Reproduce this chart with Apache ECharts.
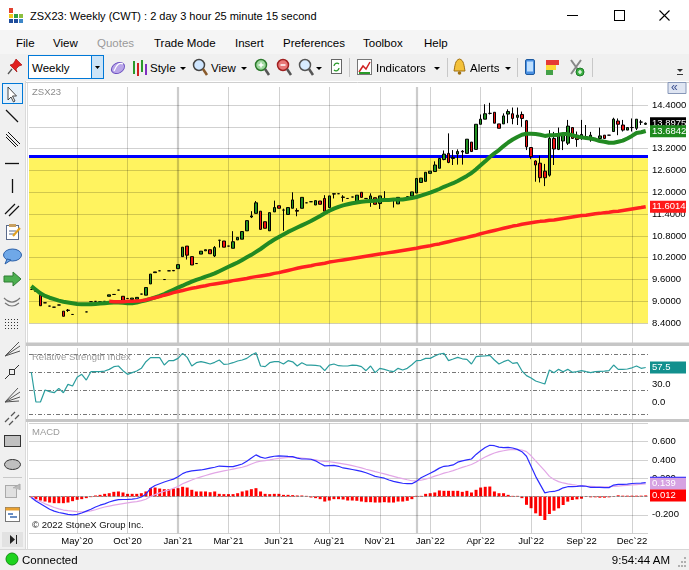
<!DOCTYPE html>
<html>
<head>
<meta charset="utf-8">
<title>ZSX23 Weekly</title>
<script src="https://cdn.jsdelivr.net/npm/echarts@6.0.0/dist/echarts.min.js"></script>
<style>
html,body{margin:0;padding:0;width:689px;height:570px;overflow:hidden;background:#fff;}
#chart{position:absolute;left:0;top:0;width:689px;height:570px;}
#chrome{position:absolute;left:0;top:0;width:689px;height:570px;pointer-events:none;}
#chrome text{font-family:"Liberation Sans",Arial,sans-serif;}
</style>
</head>
<body>
<div id="chart"></div>
<svg id="chrome" width="689" height="570" viewBox="0 0 689 570" xmlns="http://www.w3.org/2000/svg">
  <!-- title bar -->
  <rect x="0" y="0" width="689" height="30" fill="#ffffff"/>
  <rect x="9" y="8" width="4" height="5" fill="#e2412f"/>
  <rect x="9" y="14" width="4" height="4" fill="#f2c81b"/>
  <rect x="14" y="14" width="4" height="4" fill="#2f9e44"/>
  <rect x="19" y="14" width="4" height="4" fill="#8cbf3f"/>
  <rect x="9" y="19" width="4" height="4" fill="#1f4e9c"/>
  <rect x="14" y="19" width="4" height="4" fill="#1f4e9c"/>
  <rect x="19" y="19" width="4" height="4" fill="#3c86c8"/>
  <text x="30" y="20" font-size="11" fill="#000">ZSX23: Weekly (CWT) : 2 day 3 hour 25 minute 15 second</text>
  <line x1="567" y1="15.5" x2="578" y2="15.5" stroke="#000"/>
  <rect x="614.5" y="10.5" width="10" height="10" fill="none" stroke="#000"/>
  <path d="M659.5 10.5 L669.5 20.5 M669.5 10.5 L659.5 20.5" stroke="#000" stroke-width="1.1"/>
  <!-- menu -->
  <rect x="0" y="30" width="689" height="24" fill="#f5f5f5"/>
  <g font-size="11.5" fill="#000">
    <text x="16" y="47">File</text>
    <text x="53" y="47">View</text>
    <text x="97" y="47" fill="#9a9a9a">Quotes</text>
    <text x="154" y="47">Trade Mode</text>
    <text x="235" y="47">Insert</text>
    <text x="283" y="47">Preferences</text>
    <text x="363" y="47">Toolbox</text>
    <text x="424" y="47">Help</text>
  </g>
  <!-- toolbar -->
  <rect x="0" y="54" width="689" height="27" fill="#f0f0f0"/>
  <g transform="translate(8,58)">
    <path d="M8 1 L14 7 L11 8 L8 11 L9 14 L2 7 L5 6 L7 3 Z" fill="#e02020" stroke="#a00000" stroke-width="0.6"/>
    <line x1="4" y1="11" x2="0" y2="16" stroke="#555" stroke-width="1.3"/>
  </g>
  <rect x="28.5" y="55.5" width="75" height="23" fill="#fff" stroke="#0078d7"/>
  <rect x="92" y="56" width="11" height="22" fill="#cce4f7"/>
  <line x1="91.5" y1="56" x2="91.5" y2="78" stroke="#0078d7"/>
  <path d="M95 66 L100 66 L97.5 69 Z" fill="#000"/>
  <text x="32" y="72" font-size="11.5">Weekly</text>
  <g transform="translate(110,59)">
    <ellipse cx="8" cy="9" rx="7" ry="5" fill="#b9a6e8" stroke="#6b4fc0" transform="rotate(-30 8 9)"/>
    <path d="M4 12 Q8 2 13 5" stroke="#fff" fill="none" stroke-width="1.2"/>
  </g>
  <line x1="134" y1="61" x2="134" y2="74" stroke="#2a9a2a" stroke-width="2"/>
  <line x1="138" y1="63" x2="138" y2="76" stroke="#d02020" stroke-width="2"/>
  <line x1="142" y1="60" x2="142" y2="72" stroke="#2a9a2a" stroke-width="2"/>
  <line x1="146" y1="64" x2="146" y2="75" stroke="#8030c0" stroke-width="2"/>
  <text x="150" y="72" font-size="11.5">Style</text>
  <path d="M180 67 L186 67 L183 70 Z" fill="#000"/>
  <g transform="translate(192,58)">
    <circle cx="7" cy="7" r="5.5" fill="#cfe6ff" stroke="#444" stroke-width="1.5"/>
    <line x1="11" y1="11" x2="15" y2="17" stroke="#8a5a2a" stroke-width="2.5"/>
  </g>
  <text x="211" y="72" font-size="11.5">View</text>
  <path d="M241 67 L247 67 L244 70 Z" fill="#000"/>
  <g transform="translate(254,58)">
    <circle cx="7" cy="7" r="5.5" fill="#9ed89e" stroke="#2d7a2d" stroke-width="1.5"/>
    <path d="M4.5 7 H9.5 M7 4.5 V9.5" stroke="#fff" stroke-width="1.5"/>
    <line x1="11" y1="11" x2="15" y2="17" stroke="#555" stroke-width="2.5"/>
  </g>
  <g transform="translate(276,58)">
    <circle cx="7" cy="7" r="5.5" fill="#e87878" stroke="#a02020" stroke-width="1.5"/>
    <path d="M4.5 7 H9.5" stroke="#fff" stroke-width="1.5"/>
    <line x1="11" y1="11" x2="15" y2="17" stroke="#555" stroke-width="2.5"/>
  </g>
  <g transform="translate(298,58)">
    <circle cx="7" cy="7" r="5.5" fill="#d8ecff" stroke="#555" stroke-width="1.5"/>
    <line x1="11" y1="11" x2="15" y2="17" stroke="#555" stroke-width="2.5"/>
  </g>
  <path d="M316 67 L322 67 L319 70 Z" fill="#000"/>
  <rect x="331.5" y="59.5" width="10" height="14" fill="#fff" stroke="#666"/>
  <path d="M334 66 A3 3 0 0 1 339 64 M339 68 A3 3 0 0 1 334 70" stroke="#2a9a2a" fill="none" stroke-width="1.3"/>
  <line x1="349.5" y1="58" x2="349.5" y2="77" stroke="#c8c8c8"/>
  <rect x="357.5" y="59.5" width="14" height="15" fill="#fff" stroke="#777"/>
  <path d="M359 72 L363 66 L366 69 L370 62" stroke="#d02020" fill="none" stroke-width="1.5"/>
  <path d="M359 73 L370 73" stroke="#2a9a2a" stroke-width="2"/>
  <text x="376" y="72" font-size="11.5">Indicators</text>
  <path d="M434 67 L440 67 L437 70 Z" fill="#000"/>
  <line x1="447.5" y1="58" x2="447.5" y2="77" stroke="#c8c8c8"/>
  <path d="M459.5 59 C455 60 455 66 454 71 L465 71 C464 66 464 60 459.5 59 Z" fill="#f3c13a" stroke="#a07010"/>
  <circle cx="459.5" cy="73" r="1.8" fill="#a07010"/>
  <text x="470" y="72" font-size="11.5">Alerts</text>
  <path d="M505 67 L511 67 L508 70 Z" fill="#000"/>
  <line x1="517.5" y1="58" x2="517.5" y2="77" stroke="#c8c8c8"/>
  <rect x="525.5" y="59.5" width="9" height="15" rx="1.5" fill="#4a90e2" stroke="#1d5aa0"/>
  <rect x="527" y="61.5" width="6" height="10" fill="#bfe0ff"/>
  <rect x="546" y="60" width="13" height="5" fill="#e53935"/>
  <rect x="546" y="65" width="10" height="5" fill="#fdd835"/>
  <rect x="546" y="70" width="7" height="5" fill="#43a047"/>
  <path d="M571 60 L581 74 M581 60 L571 74" stroke="#888" stroke-width="2"/>
  <circle cx="580" cy="72" r="4" fill="#3cb043" stroke="#1d7a26"/>
  <path d="M578 72 H582 M580 70 V74" stroke="#fff" stroke-width="1.2"/>
  <line x1="592.5" y1="58" x2="592.5" y2="77" stroke="#c8c8c8"/>
  <path d="M677 69 L683 69 L680 72 Z" fill="#333"/>
  <line x1="677" y1="74.5" x2="683" y2="74.5" stroke="#333"/>
  <!-- left toolbar -->
  <rect x="0" y="81" width="25" height="468" fill="#f0f0f0"/>
  <line x1="25.5" y1="81" x2="25.5" y2="549" stroke="#dadada"/>
  <rect x="2.5" y="83.5" width="20" height="20" fill="#e5f1fb" stroke="#0078d7"/>
  <path d="M8 87 L8 100 L11 97 L13.5 102 L15 101 L12.5 96 L16.5 96 Z" fill="#fff" stroke="#333" stroke-width="0.9"/>
  <line x1="6" y1="110" x2="18" y2="122" stroke="#111" stroke-width="1.2"/>
  <path d="M6 134 L18 146 M8 132 L20 144 M6 137 L16 147" stroke="#111" stroke-width="1"/>
  <line x1="5" y1="163.5" x2="19" y2="163.5" stroke="#111" stroke-width="1.3"/>
  <line x1="12.5" y1="179" x2="12.5" y2="193" stroke="#111" stroke-width="1.3"/>
  <path d="M5 214 L15 204 M9 216 L19 206" stroke="#111" stroke-width="1.2"/>
  <rect x="6.5" y="225.5" width="12" height="14" fill="#fff" stroke="#5a6a8a"/>
  <rect x="9" y="224" width="7" height="3" fill="#c8a060"/>
  <path d="M9 231 H16 M9 234 H14" stroke="#5a6a8a"/>
  <path d="M13 236 L20 228" stroke="#e0a020" stroke-width="2"/>
  <ellipse cx="12.5" cy="255" rx="9" ry="6" fill="#6fa8e8" stroke="#2a5fa8"/>
  <path d="M7 259 L5 264 L11 260 Z" fill="#6fa8e8" stroke="#2a5fa8"/>
  <path d="M4 276 H13 V272 L21 279 L13 286 V282 H4 Z" fill="#4caf50" stroke="#2e7d32"/>
  <path d="M4 298 Q12 306 20 298 M5 303 Q12 309 19 303" stroke="#777" fill="none" stroke-width="1.2"/>
  <g fill="#333">
    <rect x="5" y="319" width="1" height="1"/><rect x="8" y="319" width="1" height="1"/><rect x="11" y="319" width="1" height="1"/><rect x="14" y="319" width="1" height="1"/><rect x="17" y="319" width="1" height="1"/>
    <rect x="5" y="322" width="1" height="1"/><rect x="8" y="322" width="1" height="1"/><rect x="11" y="322" width="1" height="1"/><rect x="14" y="322" width="1" height="1"/><rect x="17" y="322" width="1" height="1"/>
    <rect x="5" y="325" width="1" height="1"/><rect x="8" y="325" width="1" height="1"/><rect x="11" y="325" width="1" height="1"/><rect x="14" y="325" width="1" height="1"/><rect x="17" y="325" width="1" height="1"/>
    <rect x="5" y="328" width="1" height="1"/><rect x="8" y="328" width="1" height="1"/><rect x="11" y="328" width="1" height="1"/><rect x="14" y="328" width="1" height="1"/><rect x="17" y="328" width="1" height="1"/>
  </g>
  <path d="M5 356 L19 342 M5 356 L20 346 M5 356 L20 351" stroke="#555" stroke-width="1"/>
  <path d="M5 379 L9 375 M15 369 L19 365" stroke="#333" stroke-width="1"/>
  <rect x="9.5" y="369.5" width="5" height="5" fill="none" stroke="#333"/>
  <path d="M5 402 L18 388 M5 402 L20 392 M5 402 L20 397 M5 402 L19 401" stroke="#555" stroke-width="1"/>
  <path d="M5 422 L9 418 M11 416 L15 412 M9 425 L13 421 M15 419 L19 415" stroke="#555" stroke-width="1.2"/>
  <rect x="4.5" y="435.5" width="16" height="11" fill="#c0c0c0" stroke="#333"/>
  <ellipse cx="12.5" cy="464.5" rx="8" ry="5" fill="#c0c0c0" stroke="#333"/>
  <line x1="3" y1="477.5" x2="22" y2="477.5" stroke="#c8c8c8"/>
  <rect x="5.5" y="485.5" width="11" height="12" fill="#e0e0e0" stroke="#aaa"/>
  <path d="M13 488 L20 484 L20 490" fill="#bbb" stroke="#aaa"/>
  <rect x="5.5" y="507.5" width="14" height="14" fill="#fff" stroke="#777"/>
  <rect x="5.5" y="507.5" width="14" height="3" fill="#e8a030"/>
  <path d="M8 514 H13 M10 517 H17" stroke="#3a6ab0" stroke-width="1.5"/>
  <rect x="2" y="532" width="21" height="15" fill="#e2e2e2"/>
  <path d="M10 535 L15 539.5 L10 544 Z" fill="#222"/>
  <line x1="16.5" y1="535" x2="16.5" y2="544" stroke="#222"/>
  <!-- status bar -->
  <rect x="0" y="549" width="689" height="21" fill="#f0f0f0"/>
  <line x1="0" y1="549.5" x2="689" y2="549.5" stroke="#d7d7d7"/>
  <circle cx="12" cy="559" r="6" fill="#1ed31e" stroke="#129012"/>
  <text x="22" y="563.5" font-size="11.5">Connected</text>
  <text x="670" y="563.5" font-size="11.5" text-anchor="end">9:54:44 AM</text>
  <g fill="#b0b0b0">
    <rect x="684" y="557" width="2" height="2"/><rect x="681" y="561" width="2" height="2"/><rect x="684" y="561" width="2" height="2"/>
    <rect x="678" y="565" width="2" height="2"/><rect x="681" y="565" width="2" height="2"/><rect x="684" y="565" width="2" height="2"/>
  </g>
</svg>
<script>
// ---------------- data ----------------
const tickIdx = [10, 21, 32, 43, 54, 65, 76, 87, 98, 109, 120, 131];
const tickLabels = ['May`20', 'Oct`20', 'Jan`21', 'Mar`21', 'Jun`21', 'Aug`21', 'Nov`21', 'Jan`22', 'Apr`22', 'Jul`22', 'Sep`22', 'Dec`22'];
const yearIdx = [32, 84];
const priceTicks = [8.4, 9.0, 9.6, 10.2, 10.8, 11.4, 12.0, 12.6, 13.2, 13.8, 14.4];
const rsiLevels = [80, 50, 20, -20];
const supportLevel = 13.0;
const zoneLow = 8.4;

const open = [
  9.33, 9.28, 9.17, 8.96, 8.87, 8.84, 8.90, 8.73, 8.76, 8.64,
  8.92, 8.93, 8.71, 8.99, 9.00, 8.99, 9.00, 9.14, 9.19, 9.31,
  9.14, 9.08, 9.05, 9.06, 9.20, 9.17, 9.48, 9.79, 9.84, 9.60,
  9.84, 9.85, 9.90, 10.23, 10.52, 10.23, 10.04, 10.30, 10.39, 10.42,
  10.25, 10.68, 10.66, 10.52, 10.46, 10.69, 10.71, 10.94, 11.32, 11.42,
  11.48, 11.19, 10.94, 11.46, 11.63, 11.51, 11.39, 11.56, 11.50, 11.56,
  11.71, 11.74, 11.65, 11.76, 11.83, 11.58, 11.95, 11.96, 11.86, 11.83,
  11.87, 11.74, 12.00, 11.83, 11.74, 11.85, 11.69, 11.83, 11.80, 11.79,
  11.68, 11.80, 11.88, 11.90, 11.98, 12.27, 12.30, 12.52, 12.57, 12.66,
  12.90, 13.07, 12.93, 13.05, 13.13, 13.07, 13.38, 13.18, 13.87, 14.01,
  14.17, 14.20, 13.88, 13.88, 14.15, 14.16, 14.06, 14.14, 13.97, 13.23,
  12.86, 12.80, 12.58, 12.47, 13.48, 13.18, 13.41, 13.35, 13.78, 13.57,
  13.48, 13.53, 13.44, 13.48, 13.48, 13.57, 13.57, 13.67, 13.96, 13.85,
  13.71, 13.78, 13.76, 13.93, 13.87
];
const close = [
  9.33, 9.28, 8.88, 8.96, 8.87, 8.84, 8.90, 8.59, 8.75, 8.64,
  8.92, 8.93, 8.71, 8.99, 9.00, 8.99, 9.00, 9.18, 9.19, 9.31,
  9.03, 9.08, 9.09, 9.11, 9.20, 9.38, 9.75, 9.81, 9.84, 9.60,
  9.84, 9.84, 10.01, 10.49, 10.27, 10.00, 10.04, 10.38, 10.42, 10.31,
  10.48, 10.68, 10.49, 10.52, 10.64, 10.76, 10.92, 11.22, 11.35, 11.71,
  10.98, 11.01, 11.44, 11.58, 11.56, 11.51, 11.58, 11.79, 11.48, 11.86,
  11.71, 11.74, 11.77, 11.67, 11.48, 11.90, 11.96, 11.96, 11.87, 11.83,
  11.87, 11.92, 11.86, 11.83, 11.90, 11.67, 11.90, 11.83, 11.80, 11.79,
  11.86, 11.80, 11.88, 12.01, 12.38, 12.39, 12.55, 12.58, 12.75, 12.93,
  13.05, 12.82, 12.96, 13.12, 13.11, 13.46, 13.12, 13.87, 14.01, 14.16,
  14.17, 13.90, 13.76, 14.10, 14.22, 14.03, 14.12, 14.03, 13.25, 12.98,
  12.75, 12.40, 12.40, 13.48, 13.19, 13.59, 13.57, 13.82, 13.48, 13.45,
  13.59, 13.53, 13.57, 13.48, 13.55, 13.48, 13.57, 14.01, 13.87, 13.71,
  13.78, 13.78, 14.01, 13.93, 13.8975
];
const low = [
  9.33, 9.28, 8.88, 8.96, 8.87, 8.84, 8.90, 8.59, 8.71, 8.64,
  8.92, 8.93, 8.71, 8.99, 9.00, 8.99, 9.00, 9.14, 9.19, 9.31,
  9.03, 9.08, 9.05, 9.06, 9.20, 9.17, 9.48, 9.79, 9.84, 9.60,
  9.84, 9.84, 9.90, 10.23, 10.15, 10.00, 10.04, 10.30, 10.39, 10.31,
  10.22, 10.48, 10.49, 10.52, 10.46, 10.69, 10.71, 10.94, 11.29, 11.42,
  10.98, 11.01, 10.94, 11.46, 11.56, 10.94, 11.39, 11.56, 11.34, 11.56,
  11.71, 11.74, 11.65, 11.67, 11.48, 11.58, 11.83, 11.96, 11.74, 11.83,
  11.87, 11.74, 11.86, 11.83, 11.60, 11.67, 11.54, 11.74, 11.80, 11.58,
  11.68, 11.80, 11.88, 11.90, 11.98, 12.27, 12.30, 12.52, 12.57, 12.66,
  12.88, 12.80, 12.75, 12.76, 12.76, 13.07, 13.12, 13.18, 13.87, 14.01,
  14.14, 13.90, 13.76, 13.88, 13.90, 13.87, 13.85, 13.80, 13.16, 12.91,
  12.29, 12.27, 12.17, 12.43, 12.75, 13.16, 13.16, 13.30, 13.48, 13.25,
  13.44, 13.48, 13.39, 13.48, 13.44, 13.48, 13.57, 13.67, 13.57, 13.67,
  13.71, 13.67, 13.71, 13.85, 13.85
];
const high = [
  9.33, 9.28, 9.17, 8.96, 8.87, 8.84, 8.90, 8.73, 8.79, 8.64,
  8.92, 8.93, 8.71, 8.99, 9.00, 8.99, 9.00, 9.18, 9.19, 9.31,
  9.14, 9.08, 9.09, 9.11, 9.20, 9.38, 9.75, 9.81, 9.84, 9.60,
  9.84, 9.85, 10.01, 10.49, 10.52, 10.23, 10.04, 10.38, 10.42, 10.42,
  10.52, 10.69, 10.66, 10.52, 10.93, 10.76, 10.92, 11.22, 11.48, 11.76,
  11.48, 11.19, 11.44, 11.77, 11.63, 11.55, 11.58, 12.00, 11.56, 11.86,
  11.71, 11.74, 11.77, 11.76, 11.92, 11.90, 11.97, 11.96, 11.92, 11.83,
  11.87, 11.92, 12.00, 11.83, 11.97, 11.85, 11.90, 12.03, 11.80, 11.79,
  11.86, 11.80, 11.88, 12.01, 12.38, 12.39, 12.55, 12.58, 12.85, 12.93,
  13.15, 13.62, 13.16, 13.18, 13.16, 13.46, 13.38, 13.87, 14.14, 14.42,
  14.46, 14.20, 13.88, 14.17, 14.28, 14.33, 14.33, 14.22, 13.99, 13.23,
  12.88, 13.01, 12.78, 13.71, 13.66, 13.78, 13.58, 13.99, 13.78, 13.67,
  13.99, 13.85, 13.66, 13.48, 13.78, 13.57, 13.57, 14.05, 14.03, 13.99,
  13.78, 14.03, 14.01, 13.99, 13.92
];
const maGreen = [
  9.42, 9.32, 9.22, 9.15, 9.10, 9.06, 9.02, 8.99, 8.97, 8.95,
  8.93, 8.92, 8.92, 8.92, 8.93, 8.94, 8.95, 8.96, 8.97, 8.97,
  8.96, 8.95, 8.95, 8.97, 9.00, 9.03, 9.07, 9.11, 9.15, 9.20,
  9.26, 9.32, 9.38, 9.43, 9.49, 9.54, 9.59, 9.63, 9.68, 9.72,
  9.77, 9.83, 9.89, 9.95, 10.01, 10.07, 10.14, 10.21, 10.28, 10.36,
  10.44, 10.53, 10.62, 10.70, 10.77, 10.84, 10.91, 10.97, 11.03, 11.09,
  11.15, 11.21, 11.28, 11.35, 11.42, 11.49, 11.55, 11.60, 11.64, 11.67,
  11.70, 11.72, 11.74, 11.75, 11.76, 11.77, 11.78, 11.79, 11.79, 11.80,
  11.80, 11.80, 11.82, 11.84, 11.87, 11.91, 11.95, 11.99, 12.04, 12.09,
  12.15, 12.20, 12.25, 12.31, 12.38, 12.45, 12.53, 12.63, 12.74, 12.85,
  12.97, 13.07, 13.16, 13.27, 13.37, 13.45, 13.52, 13.58, 13.61, 13.61,
  13.60, 13.58, 13.55, 13.57, 13.57, 13.58, 13.60, 13.60, 13.57, 13.53,
  13.51, 13.49, 13.48, 13.45, 13.41, 13.39, 13.36, 13.36, 13.39, 13.42,
  13.48, 13.55, 13.63, 13.65, 13.6842
];
const maRed = [
  null, null, null, null, null, null, null, null, null, null,
  null, null, null, null, null, null, null, 9.00, 8.99, 8.99,
  8.99, 9.00, 9.00, 9.01, 9.02, 9.04, 9.07, 9.10, 9.13, 9.17,
  9.20, 9.24, 9.27, 9.30, 9.33, 9.36, 9.38, 9.41, 9.43, 9.46,
  9.48, 9.50, 9.52, 9.54, 9.57, 9.59, 9.61, 9.63, 9.66, 9.68,
  9.70, 9.72, 9.74, 9.77, 9.79, 9.82, 9.85, 9.88, 9.91, 9.94,
  9.96, 9.98, 10.01, 10.03, 10.05, 10.08, 10.10, 10.12, 10.14, 10.16,
  10.18, 10.20, 10.22, 10.24, 10.26, 10.28, 10.30, 10.32, 10.34, 10.36,
  10.38, 10.40, 10.42, 10.44, 10.46, 10.49, 10.51, 10.53, 10.56, 10.58,
  10.61, 10.64, 10.67, 10.70, 10.73, 10.76, 10.79, 10.82, 10.86, 10.89,
  10.92, 10.95, 10.98, 11.01, 11.04, 11.07, 11.09, 11.12, 11.14, 11.16,
  11.18, 11.20, 11.21, 11.23, 11.24, 11.26, 11.28, 11.30, 11.32, 11.34,
  11.36, 11.37, 11.39, 11.41, 11.42, 11.44, 11.45, 11.47, 11.48, 11.50,
  11.52, 11.54, 11.56, 11.58, 11.6014
];
const rsi = [
  50.0, 0.0, 0.0, 20.0, 17.2, 15.5, 22.7, 15.5, 29.4, 26.6,
  41.1, 46.1, 36.6, 50.5, 50.5, 50.5, 51.6, 54.4, 58.9, 60.0,
  52.2, 46.1, 48.9, 51.6, 56.1, 67.2, 73.9, 73.9, 73.9, 61.6,
  68.9, 68.9, 72.7, 81.1, 74.4, 60.0, 65.5, 67.2, 65.5, 63.3,
  66.1, 70.0, 62.7, 63.3, 65.5, 68.3, 70.0, 72.7, 78.3, 82.2,
  60.0, 58.9, 65.5, 67.2, 67.2, 63.3, 68.9, 67.0, 60.0, 65.5,
  61.6, 61.6, 61.0, 60.0, 52.2, 61.6, 63.3, 60.5, 60.0, 60.0,
  61.6, 61.0, 58.9, 52.2, 60.0, 48.9, 56.1, 54.4, 52.0, 50.5,
  56.1, 53.3, 56.1, 62.0, 68.9, 69.5, 72.7, 72.7, 76.6, 80.0,
  81.1, 68.9, 71.6, 74.4, 72.0, 71.1, 63.3, 75.5, 76.6, 77.0,
  77.7, 70.0, 63.3, 67.2, 70.0, 64.4, 65.5, 52.0, 44.0, 40.0,
  35.0, 32.5, 30.0, 53.3, 48.9, 54.4, 50.5, 54.4, 49.4, 50.5,
  52.2, 50.5, 48.9, 50.5, 51.1, 51.5, 52.2, 61.6, 54.4, 54.4,
  55.0, 57.0, 60.0, 56.1, 57.5
];
const macd = [
  -0.01, -0.05, -0.08, -0.11, -0.14, -0.16, -0.175, -0.185, -0.195, -0.20,
  -0.195, -0.18, -0.16, -0.14, -0.115, -0.095, -0.08, -0.06, -0.045, -0.035,
  -0.033, -0.031, -0.028, -0.022, -0.005, 0.025, 0.09, 0.12, 0.14, 0.158,
  0.175, 0.19, 0.215, 0.25, 0.27, 0.28, 0.285, 0.29, 0.30, 0.31,
  0.32, 0.333, 0.33, 0.327, 0.326, 0.34, 0.355, 0.385, 0.42, 0.455,
  0.43, 0.418, 0.43, 0.44, 0.445, 0.442, 0.438, 0.435, 0.42, 0.41,
  0.41, 0.407, 0.39, 0.36, 0.335, 0.338, 0.34, 0.33, 0.312, 0.305,
  0.295, 0.285, 0.275, 0.26, 0.24, 0.22, 0.21, 0.20, 0.18, 0.165,
  0.155, 0.145, 0.14, 0.14, 0.165, 0.205, 0.23, 0.255, 0.28, 0.31,
  0.33, 0.335, 0.345, 0.375, 0.39, 0.40, 0.41, 0.46, 0.50, 0.535,
  0.56, 0.555, 0.54, 0.535, 0.537, 0.53, 0.515, 0.49, 0.44, 0.33,
  0.22, 0.13, 0.04, 0.052, 0.055, 0.07, 0.095, 0.107, 0.107, 0.11,
  0.117, 0.112, 0.10, 0.10, 0.10, 0.098, 0.097, 0.125, 0.133, 0.133,
  0.135, 0.142, 0.145, 0.147, 0.151
];
const signal = [
  -0.005, -0.035, -0.055, -0.08, -0.10, -0.12, -0.135, -0.148, -0.155, -0.16,
  -0.165, -0.167, -0.165, -0.157, -0.145, -0.128, -0.115, -0.105, -0.095, -0.086,
  -0.078, -0.07, -0.062, -0.056, -0.045, -0.03, 0.00, 0.02, 0.04, 0.058,
  0.07, 0.09, 0.11, 0.14, 0.16, 0.18, 0.20, 0.215, 0.23, 0.245,
  0.258, 0.27, 0.28, 0.29, 0.30, 0.31, 0.32, 0.335, 0.355, 0.375,
  0.385, 0.392, 0.40, 0.41, 0.417, 0.422, 0.426, 0.428, 0.426, 0.42,
  0.413, 0.407, 0.40, 0.39, 0.383, 0.38, 0.373, 0.365, 0.357, 0.348,
  0.337, 0.325, 0.312, 0.298, 0.285, 0.272, 0.26, 0.247, 0.233, 0.22,
  0.207, 0.195, 0.183, 0.172, 0.17, 0.178, 0.19, 0.205, 0.222, 0.238,
  0.255, 0.268, 0.283, 0.30, 0.318, 0.333, 0.35, 0.375, 0.405, 0.432,
  0.455, 0.475, 0.49, 0.50, 0.51, 0.515, 0.513, 0.508, 0.49, 0.445,
  0.39, 0.335, 0.28, 0.22, 0.185, 0.163, 0.148, 0.138, 0.13, 0.123,
  0.118, 0.113, 0.11, 0.107, 0.106, 0.106, 0.107, 0.11, 0.114, 0.118,
  0.122, 0.126, 0.13, 0.134, 0.139
];
const hist = [
  -0.01, -0.029, -0.044, -0.055, -0.066, -0.073, -0.073, -0.073, -0.066, -0.051,
  -0.036, -0.029, -0.018, -0.007, 0.011, 0.018, 0.029, 0.036, 0.051, 0.055,
  0.044, 0.029, 0.029, 0.029, 0.036, 0.055, 0.091, 0.098, 0.087, 0.080,
  0.080, 0.087, 0.091, 0.106, 0.098, 0.073, 0.055, 0.055, 0.055, 0.047,
  0.055, 0.029, 0.026, 0.026, 0.026, 0.036, 0.055, 0.066, 0.080, 0.091,
  0.055, 0.029, 0.026, 0.029, 0.029, 0.018, 0.018, 0.015, 0.011, 0.011,
  0.007, -0.011, -0.018, -0.029, -0.055, -0.044, -0.029, -0.029, -0.033, -0.044,
  -0.044, -0.047, -0.055, -0.062, -0.062, -0.066, -0.066, -0.062, -0.066, -0.066,
  -0.055, -0.055, -0.047, -0.029, 0.007, 0.007, 0.029, 0.036, 0.044, 0.066,
  0.062, 0.062, 0.062, 0.062, 0.051, 0.062, 0.044, 0.073, 0.098, 0.106,
  0.109, 0.055, 0.036, 0.036, 0.018, 0.007, 0.007, -0.018, -0.091, -0.128,
  -0.184, -0.213, -0.257, -0.191, -0.155, -0.129, -0.093, -0.056, -0.038, -0.031,
  -0.024, 0.005, -0.009, -0.009, -0.013, -0.013, -0.009, 0.004, 0.013, 0.009,
  0.009, 0.009, 0.009, 0.009, 0.012
];

// ---------------- chart ----------------
const N = open.length;
[open, close, low, high, maGreen, maRed, rsi, macd, signal, hist].forEach((a, k) => {
  if (a.length !== N) throw new Error('array ' + k + ' has length ' + a.length);
});
const categories = open.map((_, i) => 'Wk ' + (i + 1));
const labelMap = {};
tickIdx.forEach((ix, k) => { labelMap[ix] = tickLabels[k]; });
const FONT = '"Liberation Sans", Arial, sans-serif';
const GRID = 'rgba(0,0,0,0.18)';
const last = a => a[a.length - 1];

const grids = [
  { left: 29, top: 87, width: 619, height: 258 },
  { left: 29, top: 348, width: 619, height: 72 },
  { left: 29, top: 423.3, width: 619, height: 109.8 }
].map(g => Object.assign({ outerBoundsMode: 'none', containLabel: false, show: false }, g));

const xAxes = [0, 1, 2].map(k => ({
  gridIndex: k, type: 'category', data: categories, boundaryGap: true,
  axisLine: { show: false }, axisTick: { show: false }, splitLine: { show: false },
  axisPointer: { show: false },
  axisLabel: k === 2 ? {
    show: true, margin: 3, color: '#000', fontSize: 9.5, fontFamily: FONT, hideOverlap: false,
    interval: (index) => labelMap[index] !== undefined,
    formatter: (value, index) => labelMap[index] || ''
  } : { show: false }
}));

const yAxes = [
  { gridIndex: 0, type: 'value', position: 'right', min: 7.8, max: 14.895, interval: 0.6, z: 2,
    axisLine: { show: false }, axisTick: { show: false }, splitLine: { show: false },
    axisLabel: { margin: 4, color: '#000', fontSize: 9.5, fontFamily: FONT,
      formatter: v => (v > 8.39 && v < 14.41) ? v.toFixed(4) : '' } },
  { gridIndex: 1, type: 'value', position: 'right', min: -30, max: 90, interval: 30, z: 2,
    axisLine: { show: false }, axisTick: { show: false }, splitLine: { show: false },
    axisLabel: { margin: 4, color: '#000', fontSize: 9.5, fontFamily: FONT,
      formatter: v => (Math.abs(v) < 1e-6 || Math.abs(v - 30) < 1e-6) ? v.toFixed(1) : '' } },
  { gridIndex: 2, type: 'value', position: 'right', min: -0.4, max: 0.8, interval: 0.2, z: 2,
    axisLine: { show: false }, axisTick: { show: false },
    splitLine: { show: true, lineStyle: { color: GRID, width: 1 } },
    axisLabel: { margin: 4, color: '#000', fontSize: 9.5, fontFamily: FONT,
      formatter: v => (v > -0.39 && v < 0.79) ? v.toFixed(3) : '' } }
];

function emptySeries(k, z, extra) {
  return Object.assign({ type: 'line', xAxisIndex: k, yAxisIndex: k, data: [], z: z, silent: true, symbol: 'none' }, extra);
}
function vGrid(k, hValues) {
  const data = tickIdx.filter(i => !yearIdx.includes(i)).map(i => ({ xAxis: i, lineStyle: { color: GRID, width: 1, type: 'solid' } }))
    .concat(yearIdx.map(i => ({ xAxis: i, lineStyle: { color: 'rgba(0,0,0,0.2)', width: 2.2, type: 'solid' } })))
    .concat((hValues || []).map(v => ({ yAxis: v, lineStyle: { color: GRID, width: 1, type: 'solid' } })));
  return emptySeries(k, 3, { markLine: { symbol: 'none', silent: true, animation: false, label: { show: false }, lineStyle: { type: 'solid' }, data } });
}
function tag(k, value, text, bg, z, fg) {
  return emptySeries(k, z, { markLine: { symbol: 'none', silent: true, animation: false,
    lineStyle: { width: 0, color: 'rgba(0,0,0,0)' },
    label: { show: true, position: 'end', distance: 2, formatter: text, color: fg || '#fff', backgroundColor: bg,
      padding: [1, 2, 0, 2], fontSize: 9.5, lineHeight: 11, width: 32, fontFamily: FONT, align: 'left' },
    data: [{ yAxis: value }] } });
}

const series = [
  // main panel
  emptySeries(0, 1, { markArea: { silent: true, animation: false, itemStyle: { color: '#fff35f' },
    data: [[{ yAxis: zoneLow }, { yAxis: supportLevel }]] } }),
  vGrid(0, priceTicks),
  { type: 'candlestick', xAxisIndex: 0, yAxisIndex: 0, z: 5, barWidth: 3, silent: true,
    data: open.map((o, i) => [o, close[i], low[i], high[i]]),
    itemStyle: { color: '#229022', color0: '#ee1111', borderColor: '#000', borderColor0: '#000', borderColorDoji: '#000', borderWidth: 1 } },
  emptySeries(0, 5.5, { markLine: { symbol: 'none', silent: true, animation: false, label: { show: false },
    lineStyle: { color: '#0000ff', width: 3, type: 'solid' }, data: [{ yAxis: supportLevel }] } }),
  { type: 'line', xAxisIndex: 0, yAxisIndex: 0, z: 6, data: maGreen, symbol: 'none', silent: true,
    lineStyle: { color: '#228a22', width: 4 } },
  { type: 'line', xAxisIndex: 0, yAxisIndex: 0, z: 7, data: maRed, symbol: 'none', silent: true,
    lineStyle: { color: '#ff2020', width: 3.5 } },
  tag(0, last(close), last(close).toFixed(4), '#000000', 8),
  tag(0, last(maGreen), last(maGreen).toFixed(4), '#1e8a1e', 9),
  tag(0, last(maRed), last(maRed).toFixed(4), '#ff1a1a', 9),
  // RSI panel
  vGrid(1),
  emptySeries(1, 3.5, { markLine: { symbol: 'none', silent: true, animation: false, label: { show: false },
    lineStyle: { color: '#777', width: 1, type: [4, 2, 1, 2] },
    data: rsiLevels.map(v => ({ yAxis: v })) } }),
  { type: 'line', xAxisIndex: 1, yAxisIndex: 1, z: 5, data: rsi, symbol: 'none', silent: true,
    lineStyle: { color: '#2a9d9d', width: 1.2 } },
  tag(1, last(rsi), last(rsi).toFixed(1), '#12908e', 8),
  // MACD panel
  vGrid(2),
  emptySeries(2, 3.5, { markLine: { symbol: 'none', silent: true, animation: false, label: { show: false },
    lineStyle: { color: '#888', width: 1, type: [2, 2] }, data: [{ yAxis: 0 }] } }),
  { type: 'bar', xAxisIndex: 2, yAxisIndex: 2, z: 4, data: hist, barWidth: 3, silent: true,
    itemStyle: { color: '#ff0000' } },
  { type: 'line', xAxisIndex: 2, yAxisIndex: 2, z: 5, data: signal, symbol: 'none', silent: true,
    lineStyle: { color: '#e2a6e6', width: 1.2 } },
  { type: 'line', xAxisIndex: 2, yAxisIndex: 2, z: 6, data: macd, symbol: 'none', silent: true,
    lineStyle: { color: '#2b2bff', width: 1.2 } },
  tag(2, last(macd), last(macd).toFixed(3), '#2020ff', 8),
  tag(2, last(signal), last(signal).toFixed(3), '#d6a2e2', 9),
  tag(2, last(hist), last(hist).toFixed(3), '#ff0000', 10)
];

const txt = (x, y, text, fill, size) => ({ type: 'text', z: 100, x, y, silent: true,
  style: { text, fill, font: size + 'px ' + FONT, verticalAlign: 'middle' } });

const chart = echarts.init(document.getElementById('chart'), null, { renderer: 'canvas' });
chart.setOption({
  animation: false,
  backgroundColor: '#ffffff',
  textStyle: { fontFamily: FONT },
  grid: grids, xAxis: xAxes, yAxis: yAxes, series,
  graphic: { elements: [
    { type: 'line', z: 100, silent: true, shape: { x1: 26, y1: 82.5, x2: 689, y2: 82.5 }, style: { stroke: '#cfcfcf' } },
    { type: 'line', z: 100, silent: true, shape: { x1: 27.5, y1: 83, x2: 27.5, y2: 549 }, style: { stroke: '#dcdcdc' } },
    { type: 'rect', z: 100, silent: true, shape: { x: 26, y: 342.5, width: 663, height: 3.5 }, style: { fill: '#c6c6c6' } },
    { type: 'rect', z: 100, silent: true, shape: { x: 26, y: 419, width: 663, height: 3 }, style: { fill: '#c6c6c6' } },
    { type: 'rect', z: 100, silent: true, shape: { x: 668, y: 82.5, width: 18, height: 11 }, style: { fill: '#dfe5f2', stroke: '#8797b8' } },
    txt(671, 88, '«', '#3a4f90', 12),
    txt(32, 92.5, 'ZSX23', '#8c8c8c', 9.5),
    txt(32, 357.5, 'Relative Strength Index', '#9a9a9a', 9.5),
    txt(32, 432, 'MACD', '#9a9a9a', 9.5),
    txt(32, 525, '© 2022 StoneX Group Inc.', '#111', 9.5)
  ] }
});
</script>
</body>
</html>
